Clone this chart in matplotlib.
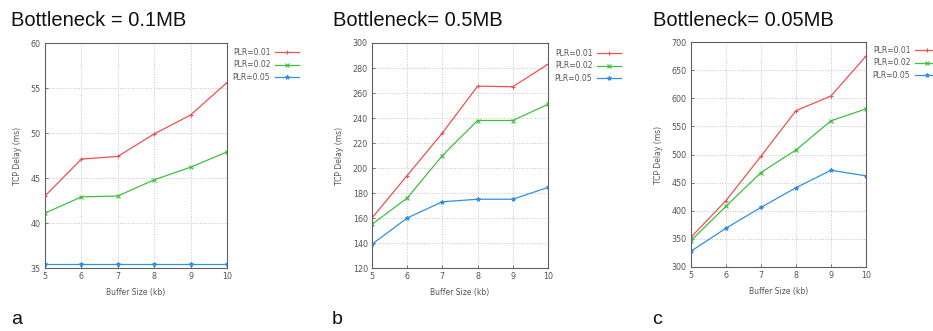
import matplotlib
matplotlib.use("Agg")
import matplotlib.pyplot as plt

buffer_size = [5, 6, 7, 8, 9, 10]
series_labels = ["PLR=0.01", "PLR=0.02", "PLR=0.05"]

# Bottleneck = 0.1MB
a_plr001 = [43.0, 47.1, 47.4, 49.9, 52.0, 55.6]
a_plr002 = [41.1, 42.9, 43.0, 44.8, 46.2, 47.9]
a_plr005 = [35.5, 35.5, 35.5, 35.5, 35.5, 35.5]

# Bottleneck = 0.5MB
b_plr001 = [160, 194, 228, 265.5, 265, 283]
b_plr002 = [155, 176, 210, 238, 238, 251]
b_plr005 = [139, 160, 173, 175, 175, 184.5]

# Bottleneck = 0.05MB
c_plr001 = [353, 418, 497, 578, 604, 675]
c_plr002 = [347, 408, 468, 508, 560, 581]
c_plr005 = [328, 369, 406, 441, 472, 462]

titles = ["Bottleneck = 0.1MB", "Bottleneck= 0.5MB", "Bottleneck= 0.05MB"]
letters = ["a", "b", "c"]
ylims = [(35, 60), (120, 300), (300, 700)]
ysteps = [5, 20, 50]

colors = ["#f05050", "#40c040", "#3090e8"]
markers = ["+", "x", "*"]

W, H = 933, 331
# axes boxes in pixels: left, top, right, bottom
boxes = [(45, 43, 227, 268), (372, 43, 548, 268), (691, 42, 866, 267)]
title_pos = [(11, 21), (333, 21), (653, 20)]
letter_pos = [(11, 320), (332, 320), (652, 320)]
legend_pos = [(237, 48), (559, 49), (877, 46)]

narrow = ["Liberation Sans Narrow", "DejaVu Sans"]

fig = plt.figure(figsize=(W / 100, H / 100), dpi=100)

data = [
    (a_plr001, a_plr002, a_plr005),
    (b_plr001, b_plr002, b_plr005),
    (c_plr001, c_plr002, c_plr005),
]

for i in range(3):
    l, t, r, b = boxes[i]
    ax = fig.add_axes([l / W, 1 - b / H, (r - l) / W, (b - t) / H])
    handles = []
    for k, ys in enumerate(data[i]):
        h, = ax.plot(buffer_size, ys, color=colors[k], marker=markers[k],
                     markersize=3, markeredgewidth=0.8, linewidth=0.9)
        handles.append(h)
    ax.set_xlim(5, 10)
    ax.set_ylim(*ylims[i])
    lo, hi = ylims[i]
    ax.set_yticks(range(lo, hi + 1, ysteps[i]))
    ax.set_xticks(buffer_size)
    ax.grid(True, color="#c4c4c4", linestyle=":", linewidth=0.7)
    for s in ax.spines.values():
        s.set_color("#606060")
        s.set_linewidth(0.8)
    ax.tick_params(direction="in", length=2, width=0.6, color="#606060",
                   labelsize=5.8, labelcolor="#555555", pad=3)
    for lab in ax.get_xticklabels() + ax.get_yticklabels():
        lab.set_family(narrow)
    ax.set_xlabel("Buffer Size (kb)", fontsize=5.5, color="#555555", family=narrow, labelpad=5)
    ax.set_ylabel("TCP Delay (ms)", fontsize=5.5, color="#555555", family=narrow, labelpad=6)

    lx, ly = legend_pos[i]
    leg = fig.legend(handles, series_labels, loc="upper left",
                     bbox_to_anchor=(lx / W - 0.012, 1 - (ly - 7) / H),
                     frameon=False, handlelength=3.2,
                     handletextpad=0.6, labelspacing=0.45,
                     markerfirst=False, prop={"family": narrow, "size": 5.5})
    for txt in leg.get_texts():
        txt.set_color("#555555")

    tx, ty = title_pos[i]
    fig.text(tx / W, 1 - ty / H, titles[i], fontsize=14.5,
             family="Liberation Sans", va="center", ha="left", color="#111111")
    lx2, ly2 = letter_pos[i]
    fig.text(lx2 / W, 1 - ly2 / H, letters[i], fontsize=14,
             family="Liberation Sans", va="center", ha="left", color="#111111")

fig.savefig("out.png", dpi=100)
